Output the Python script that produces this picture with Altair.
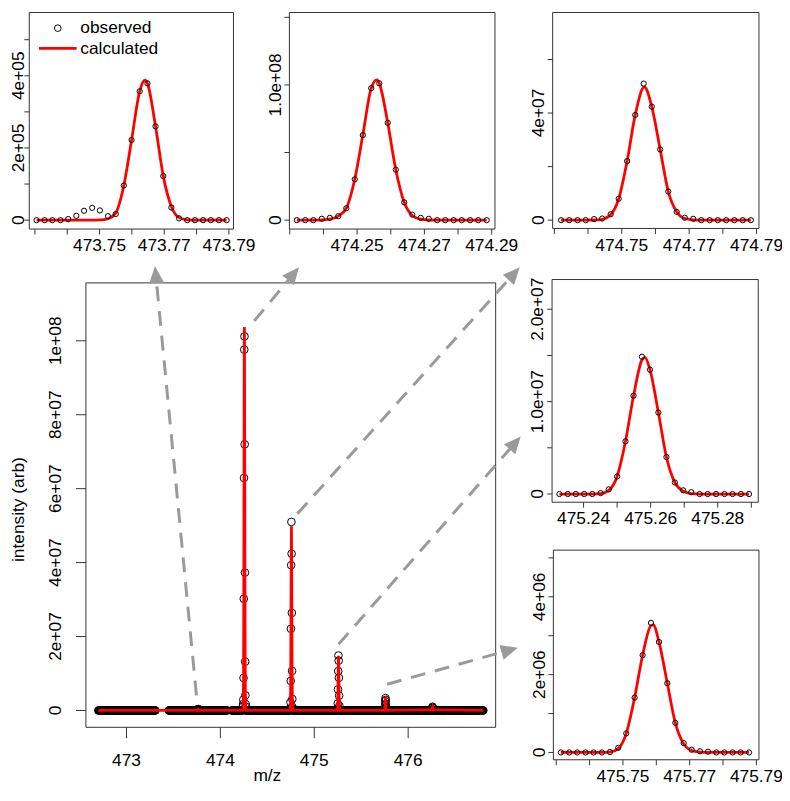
import math
import altair as alt
import numpy as np
import pandas as pd

FONT = "Liberation Sans"
FS = 17.5
RED = "#ff0000"
INK = "#000000"
FRAME = "#333333"
GREY = "#9a9a9a"

W, H = 782, 781          # drawing area inside the 8px page margin

# ---------------- data (m/z, intensity) ----------------
# zoom A : 473.76
pa_unit = 1e5
pa_mz = [473.7305, 473.7330, 473.7354, 473.7379, 473.7403, 473.7428, 473.7452, 473.7477,
         473.7501, 473.7526, 473.7550, 473.7575, 473.7599, 473.7624, 473.7648, 473.7673,
         473.7697, 473.7722, 473.7746, 473.7771, 473.7795, 473.7820, 473.7844, 473.7869, 473.7893]
pa_obs = [0, 0, 0, 0, 0.03, 0.12, 0.26, 0.34, 0.27, 0.11, 0.17, 0.96, 2.22, 3.57, 3.79, 2.60,
          1.22, 0.35, 0.05, 0, 0, 0, 0, 0, 0]
pa_fit_mz = [473.7305, 473.7330, 473.7354, 473.7379, 473.7403, 473.7428, 473.7452, 473.7477,
             473.7501, 473.7526, 473.7550, 473.7575, 473.7599, 473.7624, 473.7640, 473.7648,
             473.7673, 473.7697, 473.7722, 473.7746, 473.7771, 473.7795, 473.7820, 473.7844,
             473.7869, 473.7893]
pa_fit = [0, 0, 0, 0, 0, 0, 0, 0, 0.005, 0.04, 0.20, 0.96, 2.22, 3.57, 3.88, 3.79,
          2.60, 1.22, 0.38, 0.07, 0.01, 0, 0, 0, 0, 0]

# zoom B : 474.26
pb_unit = 1e7
pb_mz = [474.2321, 474.2346, 474.2370, 474.2395, 474.2419, 474.2444, 474.2468, 474.2493,
         474.2517, 474.2542, 474.2566, 474.2591, 474.2615, 474.2640, 474.2664, 474.2689,
         474.2713, 474.2738, 474.2762, 474.2787, 474.2811, 474.2836, 474.2860, 474.2885]
pb_obs = [0, 0, 0, 0.10, 0.17, 0.29, 0.88, 3.02, 6.29, 9.76, 10.12, 7.20, 3.73, 1.32, 0.41,
          0.17, 0.10, 0, 0, 0, 0, 0, 0, 0]
pb_fit_mz = [474.2321, 474.2346, 474.2370, 474.2395, 474.2419, 474.2444, 474.2468, 474.2493,
             474.2517, 474.2542, 474.2559, 474.2566, 474.2591, 474.2615, 474.2640, 474.2664,
             474.2689, 474.2713, 474.2738, 474.2762, 474.2787, 474.2811, 474.2836, 474.2860,
             474.2885]
pb_fit = [0, 0, 0, 0.02, 0.07, 0.30, 0.88, 3.02, 6.29, 9.76, 10.37, 10.12, 7.20, 3.73, 1.32,
          0.35, 0.07, 0.01, 0, 0, 0, 0, 0, 0, 0]

# zoom C : 474.76
pc_unit = 1e7
pc_mz = [474.7320, 474.7344, 474.7369, 474.7393, 474.7418, 474.7442, 474.7467, 474.7491,
         474.7516, 474.7540, 474.7565, 474.7589, 474.7614, 474.7638, 474.7663, 474.7687,
         474.7712, 474.7736, 474.7761, 474.7785, 474.7810, 474.7834, 474.7859, 474.7883]
pc_obs = [0, 0, 0, 0, 0.04, 0.06, 0.22, 0.80, 2.21, 3.93, 5.10, 4.24, 2.64, 1.07, 0.31,
          0.09, 0.05, 0, 0, 0, 0, 0, 0, 0]
pc_fit_mz = [474.7320, 474.7344, 474.7369, 474.7393, 474.7418, 474.7442, 474.7467, 474.7491,
             474.7516, 474.7540, 474.7567, 474.7589, 474.7614, 474.7638, 474.7663, 474.7687,
             474.7712, 474.7736, 474.7761, 474.7785, 474.7810, 474.7834, 474.7859, 474.7883]
pc_fit = [0, 0, 0, 0, 0.005, 0.03, 0.20, 0.80, 2.21, 3.93, 4.98, 4.24, 2.64, 1.07, 0.31,
          0.06, 0.01, 0, 0, 0, 0, 0, 0, 0]

# zoom D : 475.26
pd_unit = 1e7
pd_mz = [475.2328, 475.2353, 475.2377, 475.2402, 475.2426, 475.2451, 475.2475, 475.2500,
         475.2525, 475.2549, 475.2574, 475.2598, 475.2623, 475.2647, 475.2672, 475.2697,
         475.2721, 475.2746, 475.2770, 475.2795, 475.2820, 475.2844, 475.2869, 475.2893]
pd_obs = [0, 0, 0, 0, 0, 0.01, 0.05, 0.19, 0.57, 1.064, 1.486, 1.346, 0.882, 0.40, 0.125,
          0.04, 0.02, 0, 0, 0, 0, 0, 0, 0]
pd_fit_mz = [475.2328, 475.2353, 475.2377, 475.2402, 475.2426, 475.2451, 475.2475, 475.2500,
             475.2525, 475.2549, 475.2574, 475.2583, 475.2598, 475.2623, 475.2647, 475.2672,
             475.2697, 475.2721, 475.2746, 475.2770, 475.2795, 475.2820, 475.2844, 475.2869,
             475.2893]
pd_fit = [0, 0, 0, 0, 0, 0.005, 0.04, 0.19, 0.57, 1.064, 1.45, 1.48, 1.346, 0.882, 0.40,
          0.125, 0.03, 0.005, 0, 0, 0, 0, 0, 0, 0]

# zoom E : 475.76
pe_unit = 1e6
pe_mz = [475.7314, 475.7339, 475.7363, 475.7388, 475.7412, 475.7437, 475.7461, 475.7486,
         475.7510, 475.7535, 475.7559, 475.7584, 475.7608, 475.7633, 475.7657, 475.7682,
         475.7706, 475.7731, 475.7755, 475.7780, 475.7804, 475.7829, 475.7853, 475.7878]
pe_obs = [0, 0, 0, 0, 0, 0, 0.01, 0.12, 0.49, 1.41, 2.50, 3.33, 2.84, 1.78, 0.76, 0.24,
          0.07, 0.03, 0.02, 0, 0, 0, 0, 0]
pe_fit_mz = [475.7314, 475.7339, 475.7363, 475.7388, 475.7412, 475.7437, 475.7461, 475.7486,
             475.7510, 475.7535, 475.7559, 475.7584, 475.7591, 475.7608, 475.7633, 475.7657,
             475.7682, 475.7706, 475.7731, 475.7755, 475.7780, 475.7804, 475.7829, 475.7853,
             475.7878]
pe_fit = [0, 0, 0, 0, 0, 0, 0.01, 0.10, 0.49, 1.41, 2.50, 3.26, 3.28, 2.84, 1.78, 0.76,
          0.22, 0.05, 0.01, 0, 0, 0, 0, 0, 0]

# small extra peak near 476.26 (only in the overview)
pf_unit = 1e6
pf_mz = [476.2550, 476.2575, 476.2600, 476.2625, 476.2650]
pf_obs = [0.30, 0.80, 1.00, 0.70, 0.30]
pf_fit = [0.25, 0.75, 0.95, 0.70, 0.25]

# zero-intensity baseline: sampled m/z stretches of the overview spectrum
base_segments = [(472.70, 473.31), (473.45, 474.07), (474.12, 476.80)]
base_step = 0.004
fit_ends = [472.70, 476.80]

# tick values and labels
pa_xt = [473.73, 473.74, 473.75, 473.76, 473.77, 473.78, 473.79]
pa_xl = ["", "", "473.75", "", "473.77", "", "473.79"]
pa_yt = [0, 1e5, 2e5, 3e5, 4e5, 5e5]
pa_yl = ["0", "", "2e+05", "", "4e+05", ""]
pb_xt = [474.23, 474.24, 474.25, 474.26, 474.27, 474.28, 474.29]
pb_xl = ["", "", "474.25", "", "474.27", "", "474.29"]
pb_yt = [0, 5e7, 1e8, 1.5e8]
pb_yl = ["0", "", "1.0e+08", ""]
pc_xt = [474.73, 474.74, 474.75, 474.76, 474.77, 474.78, 474.79]
pc_xl = ["", "", "474.75", "", "474.77", "", "474.79"]
pc_yt = [0, 2e7, 4e7, 6e7]
pc_yl = ["0", "", "4e+07", ""]
pd_xt = [475.24, 475.25, 475.26, 475.27, 475.28, 475.29]
pd_xl = ["475.24", "", "475.26", "", "475.28", ""]
pd_yt = [0, 5e6, 1e7, 1.5e7, 2e7]
pd_yl = ["0", "", "1.0e+07", "", "2.0e+07"]
pe_xt = [475.73, 475.74, 475.75, 475.76, 475.77, 475.78, 475.79]
pe_xl = ["", "", "475.75", "", "475.77", "", "475.79"]
pe_yt = [0, 1e6, 2e6, 3e6, 4e6, 5e6]
pe_yl = ["0", "", "2e+06", "", "4e+06", ""]
main_xt = [473, 474, 475, 476]
main_xl = ["473", "474", "475", "476"]
main_yt = [0, 2e7, 4e7, 6e7, 8e7, 1e8]
main_yl = ["0", "2e+07", "4e+07", "6e+07", "8e+07", "1e+08"]

# arrows: start (overview data coords) -> tip (page position at the zoom panel edge)
arrow_from_mz = [473.745, 474.3615, 474.8195, 475.2586, 475.7757]
arrow_from_int = [4.1e6, 105.4e6, 53.2e6, 17.9e6, 7.1e6]
arrow_tip_page = [(156.5, 265.0), (302.0, 266.0), (525.0, 266.0), (526.0, 437.0), (523.0, 656.0)]


# ---------------- layout helpers ----------------
def tx(s):
    return s - 8.0


def ty(s):
    return s - 8.0


P5_TOP, P5_BOT_REF, P5_BOT = 551.7, 775.5, 763.5   # lowest panel slightly shortened to fit


def ty_p5(s):
    return P5_TOP + (s - P5_TOP) * (P5_BOT - P5_TOP) / (P5_BOT_REF - P5_TOP) - 8.0


def fit(v0, s0, v1, s1, e0, e1, t):
    a0, a1, b0, b1 = t(s0), t(s1), t(e0), t(e1)
    k = (v1 - v0) / (a1 - a0)
    return [v0 + (b0 - a0) * k, v0 + (b1 - a0) * k], [b0, b1]


def to_px(v, d, r):
    return r[0] + (v - d[0]) / (d[1] - d[0]) * (r[1] - r[0])


def panel(obs_mz, obs_val, fit_mz, fit_val, xcal, ycal, tyf, xt, xl, yt, yl,
          pt_size=28, lw=2.8, interp="monotone", line_on_top=False,
          xtick=5.5, xpad=3.0, ytick=5.0, ypad=3.7, extra=None):
    xdom, xrng = fit(*xcal, tx)
    ydom, yrng = fit(*ycal, tyf)
    xs = alt.Scale(domain=xdom, range=xrng, zero=False, nice=False)
    ys = alt.Scale(domain=ydom, range=yrng, zero=False, nice=False)
    X = lambda f: alt.X(f, scale=xs, axis=None)
    Y = lambda f: alt.Y(f, scale=ys, axis=None)
    yb, xl0 = yrng[0], xrng[0]

    frame_df = pd.DataFrame({"x0": [xdom[0]], "x1": [xdom[1]], "y0": [ydom[0]], "y1": [ydom[1]]})
    frame = alt.Chart(frame_df).mark_rect(filled=False, stroke=FRAME, strokeWidth=1).encode(
        x=X("x0:Q"), x2="x1", y=Y("y0:Q"), y2="y1")

    xt_df = pd.DataFrame({"v": xt, "lab": xl})
    yt_df = pd.DataFrame({"v": yt, "lab": yl})
    xticks = alt.Chart(xt_df).mark_rule(color=FRAME, strokeWidth=1).encode(
        x=X("v:Q"), y=alt.value(yb), y2=alt.value(yb + xtick))
    xlabs = alt.Chart(xt_df).mark_text(font=FONT, fontSize=FS, color=INK, align="center",
                                       baseline="top").encode(
        x=X("v:Q"), y=alt.value(yb + xtick + xpad), text="lab:N")
    yticks = alt.Chart(yt_df).mark_rule(color=FRAME, strokeWidth=1).encode(
        y=Y("v:Q"), x=alt.value(xl0 - ytick), x2=alt.value(xl0))
    ylabs = alt.Chart(yt_df).mark_text(font=FONT, fontSize=FS, color=INK, align="center",
                                       baseline="alphabetic", angle=270).encode(
        y=Y("v:Q"), x=alt.value(xl0 - ytick - ypad), text="lab:N")

    obs_df = pd.DataFrame({"mz": obs_mz, "val": obs_val})
    fit_df = pd.DataFrame({"mz": fit_mz, "val": fit_val})
    pts = alt.Chart(obs_df).mark_point(shape="circle", filled=False, color=INK, size=pt_size,
                                       strokeWidth=1, opacity=1).encode(x=X("mz:Q"), y=Y("val:Q"))
    line = alt.Chart(fit_df).mark_line(color=RED, strokeWidth=lw, interpolate=interp).encode(
        x=X("mz:Q"), y=Y("val:Q"))
    layers = [frame, xticks, xlabs, yticks, ylabs] + ([pts, line] if line_on_top else [line, pts])
    if extra:
        layers += extra
    return alt.layer(*layers), (xdom, xrng, ydom, yrng)


def scaled(vals, unit):
    return [v * unit for v in vals]


# ---------------- zoom panels ----------------
legend = [
    alt.Chart(pd.DataFrame({"k": ["observed"]})).mark_point(
        shape="circle", filled=False, color=INK, size=45, strokeWidth=1, opacity=1).encode(
        x=alt.value(tx(58.3)), y=alt.value(ty(24.3))),
    alt.Chart(pd.DataFrame({"k": ["calculated"]})).mark_rule(color=RED, strokeWidth=2.8).encode(
        x=alt.value(tx(39.3)), x2=alt.value(tx(77.3)), y=alt.value(ty(44.7))),
    alt.Chart(pd.DataFrame({"k": ["observed"]})).mark_text(
        font=FONT, fontSize=FS, color=INK, align="left", baseline="alphabetic").encode(
        text="k:N", x=alt.value(tx(81)), y=alt.value(ty(29.3))),
    alt.Chart(pd.DataFrame({"k": ["calculated"]})).mark_text(
        font=FONT, fontSize=FS, color=INK, align="left", baseline="alphabetic").encode(
        text="k:N", x=alt.value(tx(81)), y=alt.value(ty(50.7))),
]

pa, _ = panel(pa_mz, scaled(pa_obs, pa_unit), pa_fit_mz, scaled(pa_fit, pa_unit),
              (473.73, 35.2, 473.79, 231.2, 29.5, 235.8), (0, 218.3, 5e5, 36.0, 227.3, 8.5), ty,
              pa_xt, pa_xl, pa_yt, pa_yl, ytick=5.0, ypad=0.5, extra=legend)

pb, _ = panel(pb_mz, scaled(pb_obs, pb_unit), pb_fit_mz, scaled(pb_fit, pb_unit),
              (474.23, 292.7, 474.29, 496.7, 292.3, 500.0), (0, 218.3, 1.5e8, 13.4, 227.3, 8.5), ty,
              pb_xt, pb_xl, pb_yt, pb_yl)

pc, _ = panel(pc_mz, scaled(pc_obs, pc_unit), pc_fit_mz, scaled(pc_fit, pc_unit),
              (474.73, 560.0, 474.79, 764.3, 558.3, 766.7), (0, 218.3, 6e7, 56.0, 226.7, 8.5), ty,
              pc_xt, pc_xl, pc_yt, pc_yl)

pdd, _ = panel(pd_mz, scaled(pd_obs, pd_unit), pd_fit_mz, scaled(pd_fit, pd_unit),
               (475.24, 589.5, 475.29, 759.0, 557.7, 766.0), (0, 495.0, 2e7, 308.3, 503.3, 278.3), ty,
               pd_xt, pd_xl, pd_yt, pd_yl)

pe, _ = panel(pe_mz, scaled(pe_obs, pe_unit), pe_fit_mz, scaled(pe_fit, pe_unit),
              (475.75, 629.3, 475.79, 764.1, 559.0, 766.7), (0, 767.7, 5e6, 560.0, 775.5, 551.7), ty_p5,
              pe_xt, pe_xl, pe_yt, pe_yl)

# ---------------- overview panel ----------------
zooms = [(pa_mz, pa_obs, pa_fit_mz, pa_fit, pa_unit), (pb_mz, pb_obs, pb_fit_mz, pb_fit, pb_unit),
         (pc_mz, pc_obs, pc_fit_mz, pc_fit, pc_unit), (pd_mz, pd_obs, pd_fit_mz, pd_fit, pd_unit),
         (pe_mz, pe_obs, pe_fit_mz, pe_fit, pe_unit), (pf_mz, pf_obs, pf_mz, pf_fit, pf_unit)]
m_obs_mz, m_obs_val, m_fit_mz, m_fit_val = [], [], list(fit_ends), [0.0, 0.0]
for omz, oval, fmz, fval, unit in zooms:
    m_obs_mz += list(omz)
    m_obs_val += scaled(oval, unit)
    m_fit_mz += list(fmz)
    m_fit_val += scaled(fval, unit)
for lo, hi in base_segments:
    for m in np.arange(lo, hi, base_step):
        if not any(z[0][0] - 0.001 <= m <= z[0][-1] + 0.001 for z in zooms):
            m_obs_mz.append(float(m))
            m_obs_val.append(0.0)
order = np.argsort(m_fit_mz)
m_fit_mz = [m_fit_mz[i] for i in order]
m_fit_val = [m_fit_val[i] for i in order]

MAIN_XCAL = (473.0, 127.7, 476.0, 412.3, 86.7, 500.7)
MAIN_YCAL = (0.0, 713.7, 1e8, 340.2, 730.7, 281.7)
titles = [
    alt.Chart(pd.DataFrame({"k": ["m/z"]})).mark_text(
        font=FONT, fontSize=FS, color=INK, align="center", baseline="middle").encode(
        text="k:N", x=alt.value(tx(270.0)), y=alt.value(ty(779.5))),
    alt.Chart(pd.DataFrame({"k": ["intensity (arb)"]})).mark_text(
        font=FONT, fontSize=FS, color=INK, align="center", baseline="middle", angle=270).encode(
        text="k:N", x=alt.value(tx(19.5)), y=alt.value(ty(510.7))),
]
main, (mxd, mxr, myd, myr) = panel(
    m_obs_mz, m_obs_val, m_fit_mz, m_fit_val, MAIN_XCAL, MAIN_YCAL, ty,
    main_xt, main_xl, main_yt, main_yl,
    pt_size=60, lw=2.8, interp="linear", line_on_top=True,
    xtick=11, xpad=13.8, ytick=10, ypad=15, extra=titles)

# ---------------- arrows ----------------
HEAD_R = 8.5
ARROW_PATH = "M0,-1L0.9,1L-0.9,1Z"
tip_y = [ty, ty, ty, ty, ty_p5]
arows, heads = [], []
for m, inten, (sx_, sy_), tyf in zip(arrow_from_mz, arrow_from_int, arrow_tip_page, tip_y):
    x0, y0 = to_px(m, mxd, mxr), to_px(inten, myd, myr)
    x1, y1 = tx(sx_), tyf(sy_)
    L = math.hypot(x1 - x0, y1 - y0)
    ux, uy = (x1 - x0) / L, (y1 - y0) / L
    cx, cy = x1 - ux * HEAD_R, y1 - uy * HEAD_R
    arows.append({"x": x0, "y": y0, "x2": cx, "y2": cy})
    heads.append({"x": cx, "y": cy, "ang": math.degrees(math.atan2(ux, -uy)) % 360})

pxs = alt.Scale(domain=[0, W], range=[0, W], zero=False, nice=False)
pys = alt.Scale(domain=[0, H], range=[0, H], zero=False, nice=False)
arrow_lines = alt.Chart(pd.DataFrame(arows)).mark_rule(
    color=GREY, strokeWidth=3, strokeDash=[15, 10]).encode(
    x=alt.X("x:Q", scale=pxs, axis=None), y=alt.Y("y:Q", scale=pys, axis=None),
    x2="x2", y2="y2")
arrow_heads = alt.Chart(pd.DataFrame(heads)).mark_point(
    shape=ARROW_PATH, filled=True, color=GREY, size=(2 * HEAD_R) ** 2, opacity=1,
    strokeWidth=0).encode(
    x=alt.X("x:Q", scale=pxs, axis=None), y=alt.Y("y:Q", scale=pys, axis=None),
    angle=alt.Angle("ang:Q", scale=None))
arrows = alt.layer(arrow_lines, arrow_heads)

chart = alt.layer(pa, pb, pc, pdd, pe, main, arrows).resolve_scale(
    x="independent", y="independent").properties(
    width=W, height=H, padding=0, autosize=alt.AutoSizeParams(type="none")
).configure_view(stroke=None)

chart.save("out.html", embed_options={"renderer": "svg", "actions": False})
